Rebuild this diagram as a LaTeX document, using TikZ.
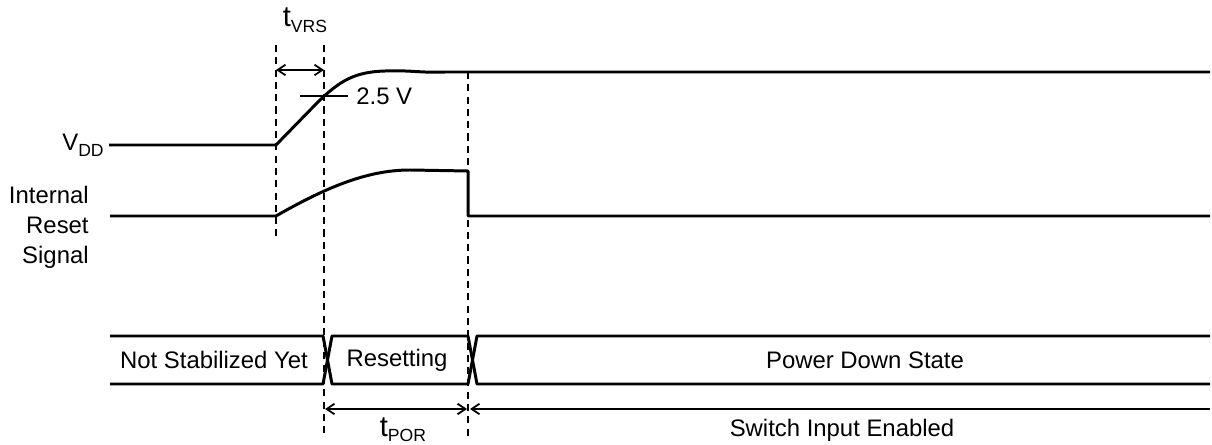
\documentclass[tikz,border=0pt]{standalone}
\usepackage{fontspec}
\setmainfont{Liberation Sans}
\usetikzlibrary{arrows.meta,positioning,calc}
\newcommand{\lowidx}[1]{\raisebox{-0.4ex}{\fontsize{10}{10}\selectfont #1}}
\newcommand{\bigt}{{\fontsize{16.5}{17}\selectfont t}}

\begin{document}
\begin{tikzpicture}[
    x=0.02cm, y=-0.02cm,
    wave/.style={line width=1.7pt, line join=round},
    guide/.style={line width=1pt, dash pattern=on 4pt off 3pt},
    dim/.style={line width=1pt},
    barb/.tip={Straight Barb[length=4.5pt,width=6pt]},
    lbl/.style={font=\fontsize{13.6}{17}\selectfont, inner sep=0pt}
]
\useasboundingbox (0,0) rectangle (1212,445);

% Timing marks
\coordinate (m1top) at (276,45);  \coordinate (m1bot) at (276,236);
\coordinate (m2top) at (324,45);  \coordinate (m2bot) at (324,436);
\coordinate (m3top) at (468,72);  \coordinate (m3bot) at (468,436);
\draw[guide] (m1top) -- (m1bot);
\draw[guide] (m2top) -- (m2bot);
\draw[guide] (m3top) -- (m3bot);

% VDD waveform
\node[lbl, anchor=base east] (vdd) at (104,151) {V\lowidx{DD}};
\draw[wave] (109,145) -- (276,145) -- (316,104)
    .. controls (340,80) and (355,72) .. (385,71)
    .. controls (410,70) and (420,73) .. (445,72) -- (1210,72);

% 2.5 V threshold
\coordinate (thl) at (300,96);
\coordinate (thr) at (348,96);
\draw[dim, line width=1.4pt] (thl) -- (thr);
\node[lbl, anchor=west] (vth) at (356,96) {2.5 V};

% tVRS
\coordinate (vrsl) at (276,70);
\coordinate (vrsr) at (324,70);
\draw[dim, barb-barb] (vrsl) -- (vrsr);
\node[lbl, anchor=base] (tvrs) at (305,27) {\bigt\lowidx{VRS}};

% Internal reset signal
\node[lbl, anchor=east, align=right] (rst) at (89,227) {Internal\\Reset\\Signal};
\draw[wave] (110,216) -- (276,216)
    .. controls (330,185) and (370,170) .. (410,170)
    -- (468,171) -- (468,216) -- (1210,216);

% State bus
\draw[wave] (110,336) -- (323,336) -- (332,384) -- (468,384) -- (477,336) -- (1210,336);
\draw[wave] (110,384) -- (323,384) -- (332,336) -- (468,336) -- (477,384) -- (1210,384);
\node[lbl] (nsy) at (214,360) {Not Stabilized Yet};
\node[lbl] (resetting) at (397,360) {Resetting};
\node[lbl] (pds) at (865,360) {Power Down State};

% tPOR and switch input
\coordinate (porl) at (325,409);
\coordinate (porr) at (467,409);
\coordinate (swl) at (470,409);
\coordinate (swr) at (1210,409);
\draw[dim, barb-barb] (porl) -- (porr);
\draw[dim, barb-] (swl) -- (swr);
\node[lbl, anchor=base] (tpor) at (403,436) {\bigt\lowidx{POR}};
\node[lbl, anchor=base] (swin) at (842,436) {Switch Input Enabled};

\end{tikzpicture}
\end{document}
